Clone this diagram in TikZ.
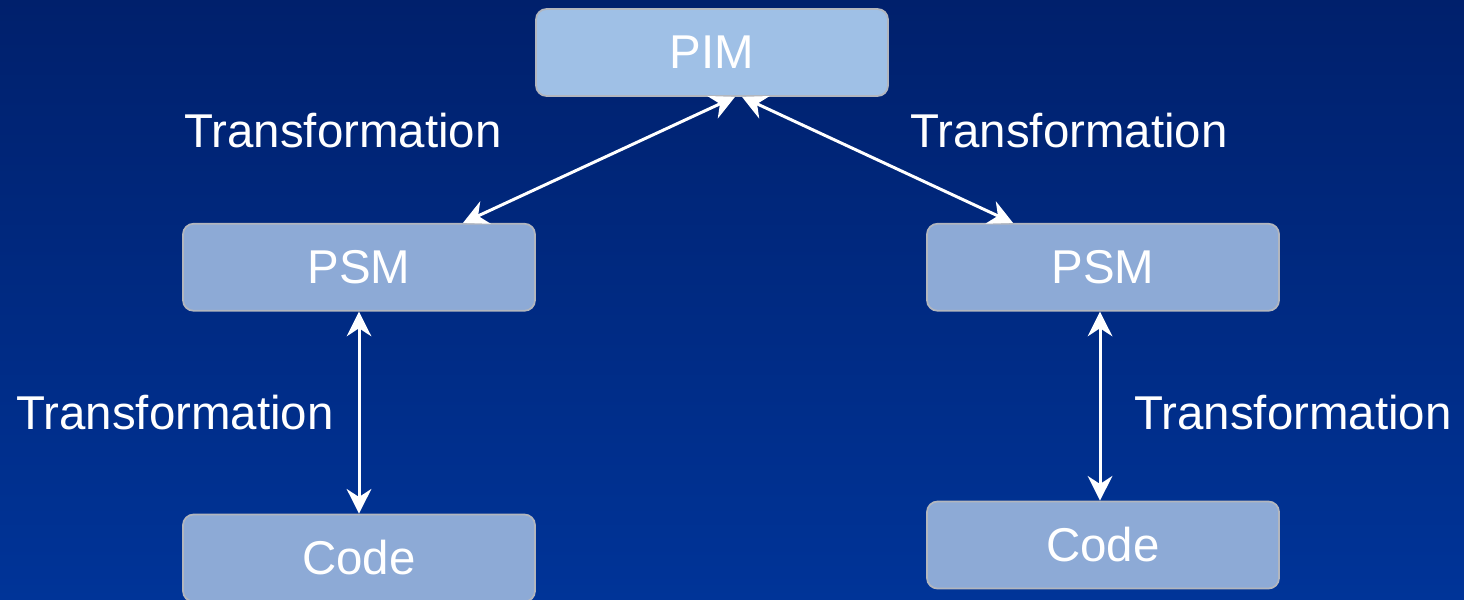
\documentclass[tikz,border=0pt]{standalone}
\usepackage{fontspec}
\setmainfont{Liberation Sans}
\usetikzlibrary{arrows.meta,positioning,calc}

\definecolor{slidetop}{RGB}{0,32,108}
\definecolor{slidebot}{RGB}{0,52,152}
\definecolor{pimfill}{RGB}{159,192,230}
\definecolor{psmfill}{RGB}{141,170,214}
\definecolor{boxline}{RGB}{178,182,190}

\begin{document}
\begin{tikzpicture}[
  font=\fontsize{27}{32}\selectfont,
  >={Stealth[length=14pt,width=14pt]},
  model/.style={draw=boxline, line width=1pt, rounded corners=6pt,
                fill=psmfill, text=white, align=center,
                minimum width=70.4mm, minimum height=17.4mm},
  toplevel/.style={model, fill=pimfill},
  trans/.style={text=white, inner sep=0pt},
  link/.style={<->, white, line width=1.7pt}
]

% slide background
\fill[top color=slidetop, bottom color=slidebot]
  (0,0) rectangle (29.28,-11.98);
\useasboundingbox (0,0) rectangle (29.28,-11.98);

% models
\node[toplevel] (pim) at (14.24,-1.05) {PIM};
\node[model, below=25.2mm of pim, xshift=-70.6mm] (psmA) {PSM};
\node[model, below=25.2mm of pim, xshift=78.2mm] (psmB) {PSM};
\node[model, below=40.4mm of psmA] (codeA) {Code};
\node[model, below=37.8mm of psmB] (codeB) {Code};

% transformations between the models
\draw[link] ([xshift=4.6mm]pim.south) -- ([xshift=20.8mm]psmA.north);
\draw[link] ([xshift=6mm]pim.south) -- ([xshift=-18mm]psmB.north);
\draw[link] (psmA.south) -- (codeA.north);
\draw[link] ([xshift=-0.6mm]psmB.south) -- ([xshift=-0.6mm]codeB.north);

\node[trans] (tA) at (6.86,-2.62) {Transformation};
\node[trans] (tB) at (21.38,-2.62) {Transformation};
\node[trans] (tC) at (3.5,-8.26) {Transformation};
\node[trans] (tD) at (25.86,-8.26) {Transformation};

\end{tikzpicture}
\end{document}
